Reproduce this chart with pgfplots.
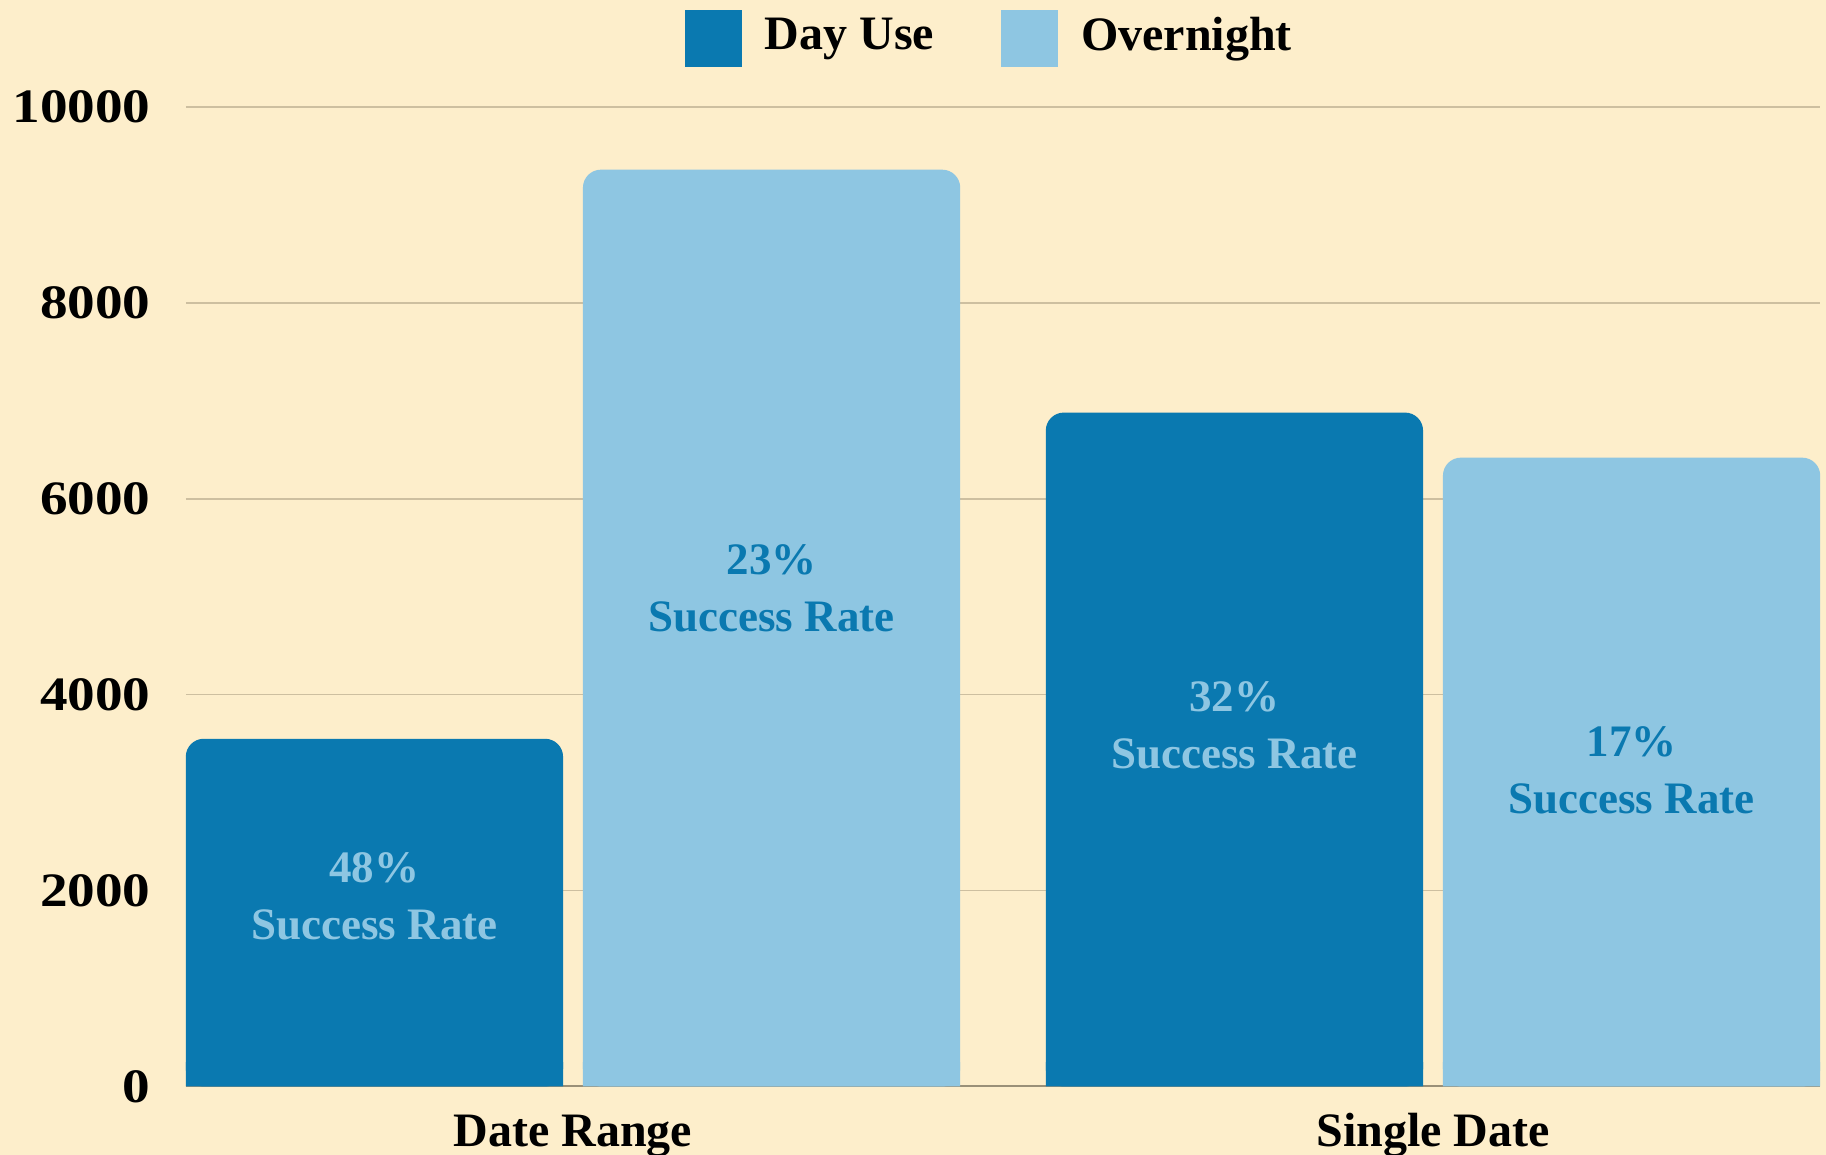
\documentclass[border=0pt]{standalone}
\usepackage{fontspec}
\setmainfont{Liberation Serif}
\newfontfamily\tickfont[FakeStretch=1.15]{Liberation Serif}
\usepackage{pgfplots}
\pgfplotsset{compat=1.18}
\usepackage{pgfplotstable}
\definecolor{bg}{HTML}{FDEECB}
\definecolor{dayc}{HTML}{0A79B0}
\definecolor{nightc}{HTML}{8EC6E2}
\definecolor{gridc}{HTML}{CDBFA0}
\definecolor{axisc}{HTML}{9A9078}
\pgfplotstableread{
x day night
0 3550 9360
1 6880 6420
}\data
\begin{document}
\begin{tikzpicture}
\fill[bg] (-93pt,-34.25pt) rectangle (820pt,543.25pt);
\begin{axis}[
 at={(0,0)}, anchor=south west,
 scale only axis, width=817pt, height=489.75pt,
 xmin=-0.45, xmax=1.45, ymin=0, ymax=10000,
 xtick={0,1}, xticklabels={Date Range, Single Date},
 ytick={0,2000,...,10000},
 scaled y ticks=false,
 ymajorgrids, grid style={gridc, line width=0.75pt},
 major tick length=0pt,
 axis x line*=bottom, axis y line*=left,
 y axis line style={draw=none},
 x axis line style={-, draw=axisc, line width=1pt},
 /pgf/number format/1000 sep={},
 /pgf/number format/assume math mode=true,
 xticklabel style={font=\fontsize{24}{28}\selectfont\bfseries, inner sep=0pt, anchor=base, yshift=-30pt},
 yticklabel style={font=\fontsize{24}{28}\selectfont\tickfont\bfseries, inner sep=0pt, anchor=east, xshift=-17.5pt},
 legend style={at={(0.491,1)}, anchor=center, yshift=34.4pt, draw=none, fill=none,
   inner sep=0pt, outer sep=0pt, nodes={inner sep=0pt},
   font=\fontsize{24}{28}\selectfont\bfseries,
   /tikz/every odd column/.append style={column sep=11.5pt},
   /tikz/every even column/.append style={column sep=33.5pt}},
 legend columns=2,
 legend image code/.code={\fill[#1, sharp corners] (0pt,-15.5pt) rectangle (28.5pt,13pt);},
 bar width=0.4387,
]
\addplot[ybar, bar shift=-0.2309, fill=dayc, draw=none, rounded corners=9pt] table[x=x, y=day] {\data};
\addlegendentry{Day Use}
\addplot[ybar, bar shift=0.2309, fill=nightc, draw=none, rounded corners=9pt] table[x=x, y=night] {\data};
\addlegendentry{Overnight}
\addplot[ybar, bar shift=-0.2309, fill=dayc, draw=none, forget plot] table[x=x, y expr={min(\thisrow{day},250)}] {\data};
\addplot[ybar, bar shift=0.2309, fill=nightc, draw=none, forget plot] table[x=x, y expr={min(\thisrow{night},250)}] {\data};
\begin{scope}[every node/.style={font=\fontsize{22.5}{28.5}\selectfont\bfseries, align=center, inner sep=0pt, anchor=center}]
\node[text=nightc] at (axis cs:-0.2309,1944) {48\%\\Success Rate};
\node[text=dayc] at (axis cs:0.2309,5083) {23\%\\Success Rate};
\node[text=nightc] at (axis cs:0.7691,3692) {32\%\\Success Rate};
\node[text=dayc] at (axis cs:1.2309,3228) {17\%\\Success Rate};
\end{scope}
\end{axis}
\pgfresetboundingbox
\path (-93pt,-34.25pt) rectangle (820pt,543.25pt);
\end{tikzpicture}
\end{document}
